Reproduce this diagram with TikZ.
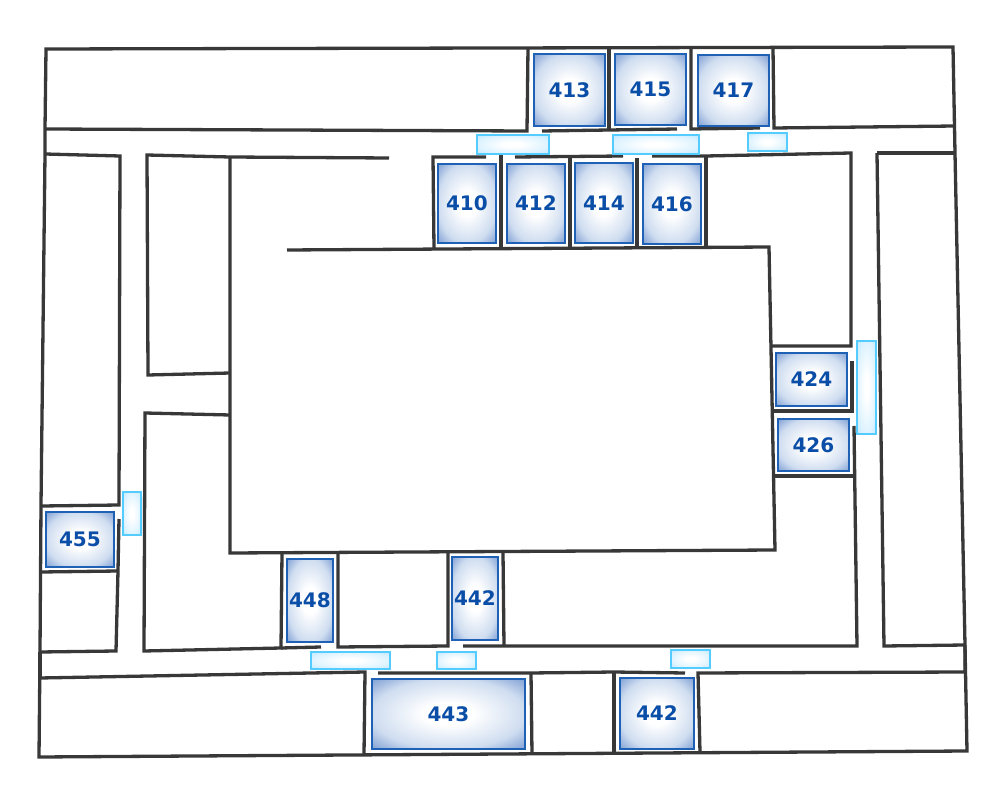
\documentclass[tikz,border=0pt]{standalone}
\usepackage{fontspec}
\setmainfont{DejaVu Sans}
\definecolor{wallc}{HTML}{383838}
\definecolor{roomedge}{HTML}{1F62B5}
\definecolor{roomtext}{HTML}{0B4EA8}
\definecolor{roommid}{HTML}{CFDDF0}
\definecolor{roomcorner}{HTML}{7F9FD4}
\definecolor{dooredge}{HTML}{55CCFF}
\definecolor{doormid}{HTML}{DDF3FF}
\definecolor{doorcorner}{HTML}{BFE8FF}
\pgfdeclareradialshading{roomshade}{\pgfpoint{0bp}{0bp}}{color(0bp)=(white); color(8bp)=(white); color(25bp)=(roommid); color(35.5bp)=(roomcorner); color(50bp)=(roomcorner)}
\pgfdeclareradialshading{doorshade}{\pgfpoint{0bp}{0bp}}{color(0bp)=(white); color(6bp)=(white); color(25bp)=(doormid); color(35.5bp)=(doorcorner); color(50bp)=(doorcorner)}
\tikzset{
  wall/.style={draw=wallc,line width=3.3pt,line join=miter},
  room/.style={draw=roomedge,line width=1.5pt,shading=roomshade,rectangle,inner sep=0pt,
    text=roomtext,font=\fontsize{20}{20}\selectfont\bfseries},
  door/.style={draw=dooredge,line width=1.8pt,shading=doorshade,rectangle,inner sep=0pt},
}
\newcommand{\roomat}[6]{\node[room,minimum width={#4pt-#2pt-1pt},minimum height={#5pt-#3pt-1pt}] (#1) at ({(#2+#4)/2+0.4},{(#3+#5)/2+0.4}) {#6};}
\newcommand{\doorat}[5]{\node[door,minimum width={#4pt-#2pt-1pt},minimum height={#5pt-#3pt-1pt}] (#1) at ({(#2+#4)/2+0.4},{(#3+#5)/2+0.4}) {};}
\begin{document}
\begin{tikzpicture}[x=1pt,y=-1pt]
\useasboundingbox (0,0) rectangle (1005,794);
% outer walls
\draw[wall] (45,129) -- (46,49) -- (953,47) -- (955,153) -- (965,645) -- (967,751) -- (39,757) -- (40,652) -- (41,505) -- (45,154) -- (45,129);
% top row
\draw[wall] (45,129) -- (527,131) -- (528,48);
\draw[wall] (542,131) -- (677,129);
\draw[wall] (609,48) -- (609,130);
\draw[wall] (691,48) -- (691,129) -- (760,128);
\draw[wall] (773,48) -- (774,128) -- (955,126);
% left blocks
\draw[wall] (45,154) -- (120,156) -- (119,505) -- (42,506);
\draw[wall] (41,572) -- (118,571);
\draw[wall] (119,519) -- (118,571) -- (116,651) -- (40,652);
\draw[wall] (40,678) -- (365,672) -- (364,755);
\draw[wall] (389,158) -- (230,157) -- (147,155) -- (148,375) -- (230,373);
\draw[wall] (230,415) -- (145,413) -- (144,651) -- (281,648) -- (282,553);
\draw[wall] (281,648) -- (321,647);
% centre block
\draw[wall] (230,157) -- (230,553) -- (775,550) -- (769,247) -- (287,250);
% upper rooms
\draw[wall] (486,157) -- (433,157) -- (434,248);
\draw[wall] (501,151) -- (501,248);
\draw[wall] (515,157) -- (623,156);
\draw[wall] (570,157) -- (570,247);
\draw[wall] (637,158) -- (637,247);
\draw[wall] (652,156) -- (706,156) -- (851,153) -- (851,346) -- (771,346);
\draw[wall] (706,156) -- (706,247);
% right rooms
\draw[wall] (773,411) -- (852,411) -- (852,361);
\draw[wall] (775,476) -- (854,476);
\draw[wall] (854,426) -- (857,646) -- (463,646);
\draw[wall] (877,153) -- (955,153);
\draw[wall] (877,153) -- (884,646) -- (965,645);
% lower rooms
\draw[wall] (338,553) -- (338,647) -- (448,646) -- (448,553);
\draw[wall] (503,552) -- (504,646);
\draw[wall] (40,652) -- (40,678);
\draw[wall] (965,645) -- (965,672) -- (698,673) -- (700,752);
\draw[wall] (378,673) -- (531,673) -- (614,672) -- (685,673);
\draw[wall] (531,673) -- (532,754);
\draw[wall] (614,672) -- (614,753);
% rooms
\roomat{r413}{533}{53}{605}{126}{413}
\roomat{r415}{614}{53}{686}{125}{415}
\roomat{r417}{697}{54}{769}{126}{417}
\roomat{r410}{437}{163}{496}{243}{410}
\roomat{r412}{506}{163}{565}{243}{412}
\roomat{r414}{574}{162}{633}{243}{414}
\roomat{r416}{642}{163}{701}{244}{416}
\roomat{r424}{775}{352}{847}{406}{424}
\roomat{r426}{777}{418}{849}{471}{426}
\roomat{r455}{45}{511}{114}{567}{455}
\roomat{r448}{286}{558}{333}{642}{448}
\roomat{r442a}{451}{556}{498}{640}{442}
\roomat{r443}{371}{678}{525}{749}{443}
\roomat{r442b}{619}{677}{694}{749}{442}
% doors
\doorat{d1}{476}{134}{549}{154}
\doorat{d2}{612}{134}{699}{154}
\doorat{d3}{747}{132}{787}{151}
\doorat{d4}{856}{340}{876}{434}
\doorat{d5}{122}{491}{141}{535}
\doorat{d6}{310}{651}{390}{669}
\doorat{d7}{436}{651}{476}{669}
\doorat{d8}{670}{649}{710}{668}
\end{tikzpicture}
\end{document}
